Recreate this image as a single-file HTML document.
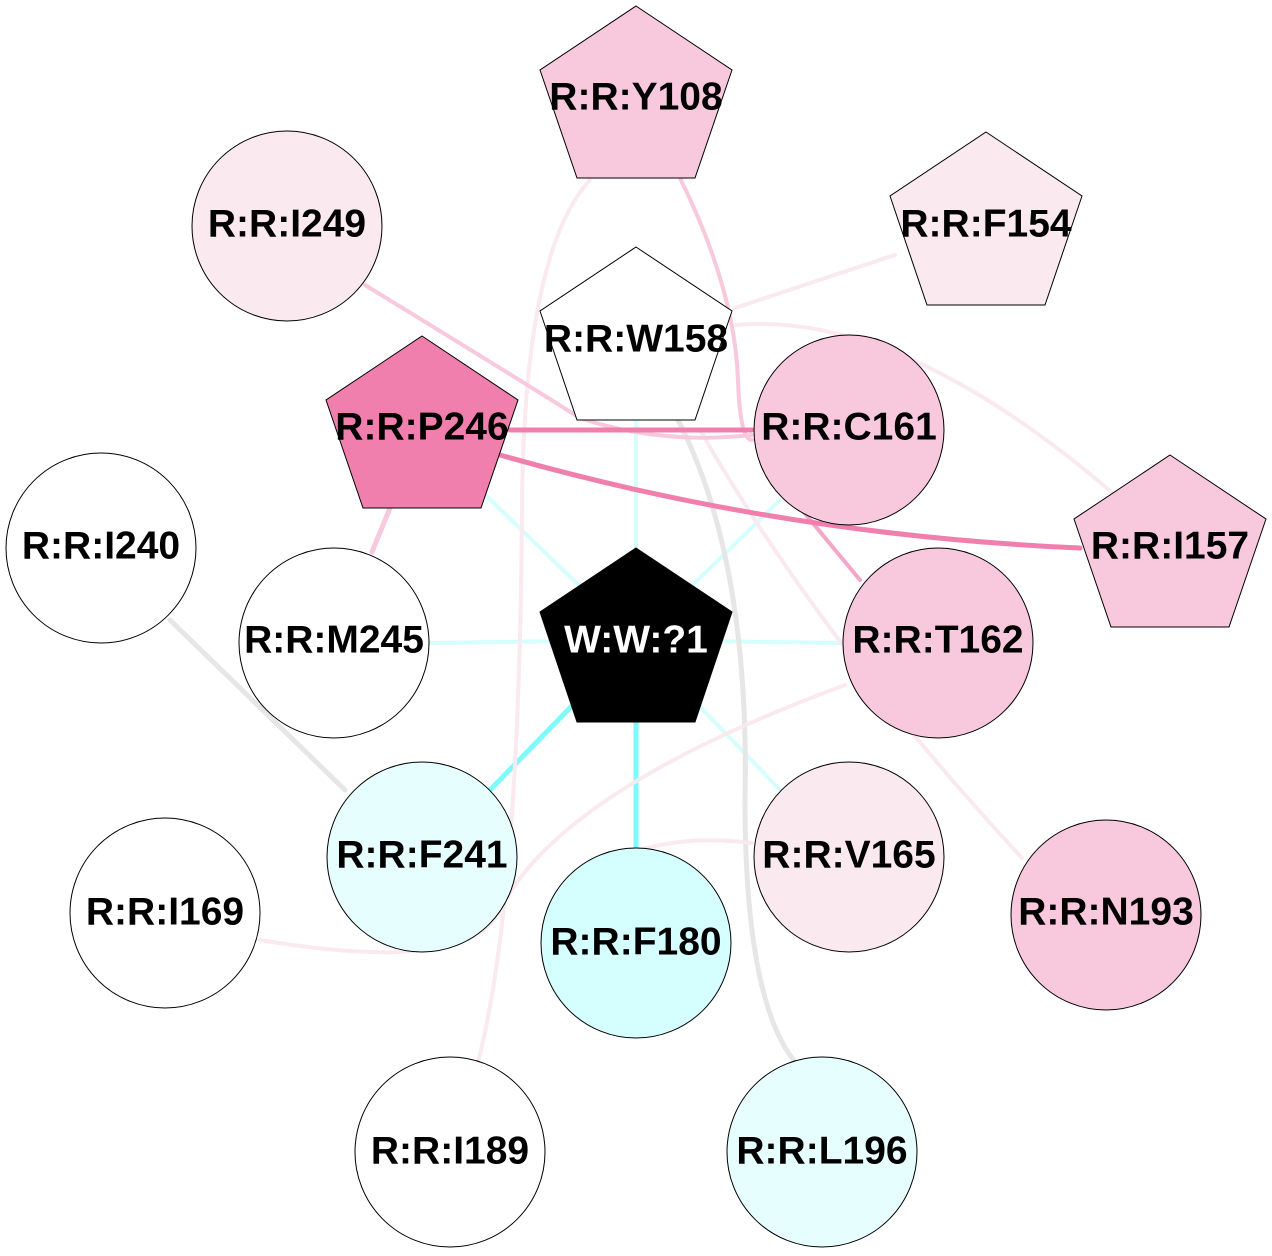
<!DOCTYPE html>
<html><head><meta charset="utf-8"><style>
html,body{margin:0;padding:0;background:#fff}
svg{display:block}
text{font-family:"Liberation Sans",Arial,sans-serif;font-weight:bold;font-size:39px;text-anchor:middle;dominant-baseline:central}
</style></head><body>
<svg width="1272" height="1256" viewBox="0 0 1272 1256" xmlns="http://www.w3.org/2000/svg">
<g fill="none" stroke-linecap="round">
<line x1="636" y1="640" x2="636" y2="420" stroke="#d5fefe" stroke-width="4"/>
<line x1="636" y1="640" x2="480" y2="490" stroke="#d5fefe" stroke-width="4"/>
<line x1="636" y1="640" x2="780" y2="500" stroke="#d5fefe" stroke-width="4"/>
<line x1="636" y1="640" x2="430" y2="643" stroke="#d5fefe" stroke-width="4"/>
<line x1="636" y1="640" x2="843" y2="643" stroke="#d5fefe" stroke-width="4"/>
<line x1="636" y1="640" x2="780" y2="790" stroke="#d5fefe" stroke-width="4"/>
<line x1="636" y1="640" x2="490" y2="790" stroke="#7ffafa" stroke-width="5"/>
<line x1="636" y1="640" x2="636" y2="848" stroke="#7ffafa" stroke-width="5"/>
<line x1="170" y1="620" x2="345" y2="790" stroke="#e6e6e6" stroke-width="5"/>
<path d="M678 420 Q750 560 745 800 Q745 1000 795 1062" stroke="#e6e6e6" stroke-width="5"/>
<line x1="735" y1="308" x2="895" y2="255" stroke="#fbe9f0" stroke-width="4"/>
<path d="M735 325 Q900 310 1115 495" stroke="#fbe9f0" stroke-width="4"/>
<path d="M590 180 Q525 250 522 500 Q520 900 478 1062" stroke="#fbe9f0" stroke-width="4"/>
<path d="M700 430 Q820 640 1022 858" stroke="#fbe9f0" stroke-width="4"/>
<path d="M845 685 Q560 790 500 910 Q470 975 260 940" stroke="#fbe9f0" stroke-width="4"/>
<path d="M752 843 Q690 835 640 850" stroke="#fbe9f0" stroke-width="4"/>
<path d="M680 178 Q735 290 738 380 Q740 440 752 440" stroke="#f8c8dc" stroke-width="4"/>
<path d="M365 285 Q520 380 580 418 Q660 445 752 435" stroke="#f8c8dc" stroke-width="4"/>
<line x1="390" y1="508" x2="372" y2="552" stroke="#f8c8dc" stroke-width="5"/>
<line x1="802" y1="510" x2="860" y2="580" stroke="#f4a6c6" stroke-width="4"/>
<line x1="510" y1="430" x2="752" y2="430" stroke="#f07fae" stroke-width="5"/>
<path d="M500 455 Q780 535 1080 548" stroke="#f07fae" stroke-width="5"/>
</g>
<g stroke="#000" stroke-width="1">
<polygon points="636,6 732,70 695,178 577,178 540,70" fill="#f8c8dc"/>
<circle cx="287" cy="226" r="95" fill="#fbe9f0"/>
<polygon points="986,132 1082,196 1045,305 927,305 890,196" fill="#fbe9f0"/>
<polygon points="636,247 732,311 695,420 577,420 540,311" fill="#fff"/>
<polygon points="422,336 518,400 481,508 363,508 326,400" fill="#f07fae"/>
<circle cx="849" cy="430" r="95" fill="#f8c8dc"/>
<circle cx="101" cy="548" r="95" fill="#fff"/>
<polygon points="1170,455 1266,519 1229,627 1111,627 1074,519" fill="#f8c8dc"/>
<circle cx="334" cy="643" r="95" fill="#fff"/>
<polygon points="636,548 732,612 695,722 577,722 540,612" fill="#000"/>
<circle cx="938" cy="643" r="95" fill="#f8c8dc"/>
<circle cx="422" cy="857" r="95" fill="#e6fefe"/>
<circle cx="849" cy="857" r="95" fill="#fbe9f0"/>
<circle cx="165" cy="913" r="95" fill="#fff"/>
<circle cx="636" cy="943" r="95" fill="#d5fefe"/>
<circle cx="1106" cy="915" r="95" fill="#f8c8dc"/>
<circle cx="450" cy="1152" r="95" fill="#fff"/>
<circle cx="822" cy="1152" r="95" fill="#e6fefe"/>
</g>
<text x="636" y="97">R:R:Y108</text>
<text x="287" y="224">R:R:I249</text>
<text x="986" y="224">R:R:F154</text>
<text x="636" y="339">R:R:W158</text>
<text x="422" y="427">R:R:P246</text>
<text x="849" y="427">R:R:C161</text>
<text x="101" y="546">R:R:I240</text>
<text x="1170" y="546">R:R:I157</text>
<text x="334" y="640">R:R:M245</text>
<text x="636" y="640" fill="#fff">W:W:?1</text>
<text x="938" y="640">R:R:T162</text>
<text x="422" y="855">R:R:F241</text>
<text x="849" y="855">R:R:V165</text>
<text x="165" y="912">R:R:I169</text>
<text x="636" y="942">R:R:F180</text>
<text x="1106" y="912">R:R:N193</text>
<text x="450" y="1151">R:R:I189</text>
<text x="822" y="1151">R:R:L196</text>
</svg>
</body></html>
